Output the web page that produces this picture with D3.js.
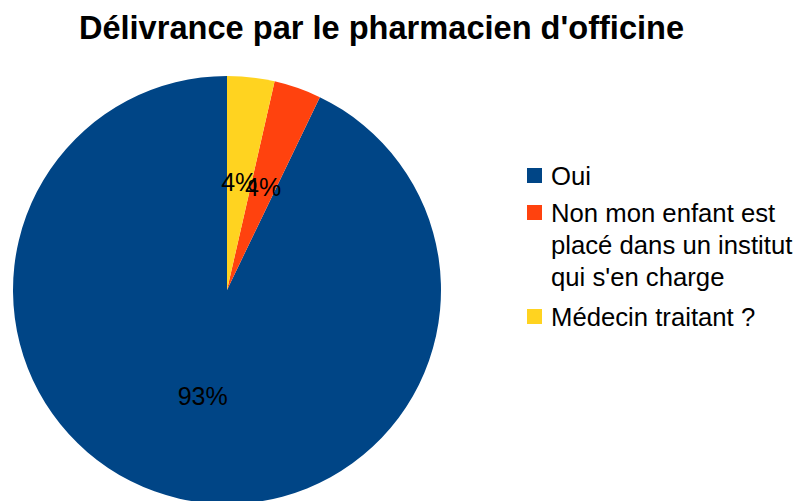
<!DOCTYPE html>
<html><head><meta charset="utf-8">
<script src="https://cdn.jsdelivr.net/npm/d3@7"></script>
<style>body{margin:0;background:#fff}svg{display:block}</style>
</head><body>
<script>
const title = "Délivrance par le pharmacien d'officine";
const categories = ["Oui", "Non mon enfant est placé dans un institut qui s'en charge", "Médecin traitant ?"];
const legendLines = [["Oui"], ["Non mon enfant est", "placé dans un institut", "qui s'en charge"], ["Médecin traitant ?"]];
const values = [26, 1, 1];
const labels = ["93%", "4%", "4%"];
const colors = ["#004586", "#ff420e", "#ffd320"];

const W = 809, H = 501;
const svg = d3.select("body").append("svg").attr("width", W).attr("height", H);
const font = "'Liberation Sans', Arial, sans-serif";

svg.append("text").attr("x", 381.5).attr("y", 39).attr("text-anchor", "middle")
  .attr("font-family", font).attr("font-weight", "bold").attr("font-size", 32.6)
  .text(title);

const cx = 227, cy = 290, r = 214;
// LibreOffice style: counter-clockwise from 12 o'clock
const pie = d3.pie().sort(null).value(d => d).startAngle(0).endAngle(-2 * Math.PI);
const arcs = pie(values);
const arc = d3.arc().innerRadius(0).outerRadius(r);
const g = svg.append("g").attr("transform", `translate(${cx},${cy})`);
g.selectAll("path").data(arcs).enter().append("path")
  .attr("d", arc).attr("fill", (d, i) => colors[i]);

const labelArc = d3.arc().innerRadius(r * 0.51).outerRadius(r * 0.51);
g.selectAll("text").data(arcs).enter().append("text")
  .attr("transform", d => { const c = labelArc.centroid(d); return `translate(${c[0]},${c[1] + 9})`; })
  .attr("text-anchor", "middle").attr("font-family", font).attr("font-size", 25)
  .attr("fill", "#000").text((d, i) => labels[i]);

const leg = svg.append("g");
const rows = [185, 222, 326];
legendLines.forEach((lines, i) => {
  leg.append("rect").attr("x", 527).attr("y", rows[i] - 17).attr("width", 15).attr("height", 15)
    .attr("fill", colors[i]);
  lines.forEach((t, j) => {
    leg.append("text").attr("x", 551).attr("y", rows[i] + j * 32)
      .attr("font-family", font).attr("font-size", 25.7).attr("fill", "#000").text(t);
  });
});
</script>
</body></html>
